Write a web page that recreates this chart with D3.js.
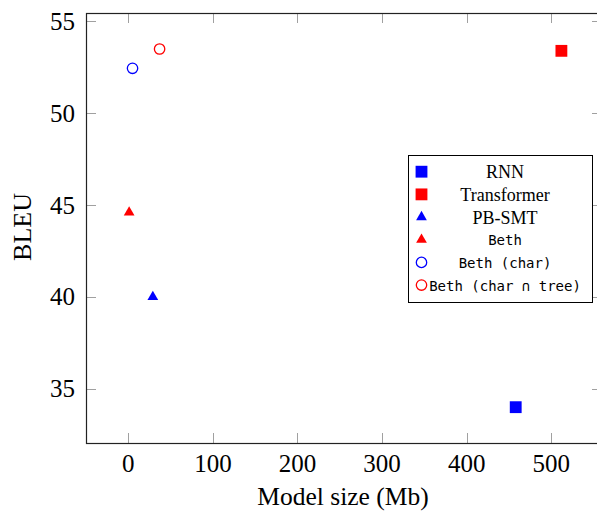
<!DOCTYPE html>
<html>
<head>
<meta charset="utf-8">
<script src="https://cdn.jsdelivr.net/npm/d3@7"></script>
<style>
  body { margin: 0; background: #fff; }
  svg { display: block; }
</style>
</head>
<body>
<script>
// Data
const models = ["RNN", "Transformer", "PB-SMT", "Beth", "Beth (char)", "Beth (char \u2229 tree)"];
const modelSize = [458, 512, 29, 1, 5, 37];      // Mb
const bleu = [34.0, 53.4, 40.0, 44.6, 52.45, 53.5];
const xTicks = [0, 100, 200, 300, 400, 500];
const yTicks = [35, 40, 45, 50, 55];

// Marker styles, one per series
const styles = [
  { shape: "square", color: "#0000ff", font: "serif" },
  { shape: "square", color: "#ff0000", font: "serif" },
  { shape: "triangle", color: "#0000ff", font: "serif" },
  { shape: "triangle", color: "#ff0000", font: "mono" },
  { shape: "circle", color: "#0000ff", font: "mono" },
  { shape: "circle", color: "#ff0000", font: "mono" }
];

const width = 597, height = 511;
const plot = { left: 86, right: 602, top: 13, bottom: 443 };
const serif = "'Liberation Serif', 'Times New Roman', serif";
const mono = "'DejaVu Sans Mono', monospace";

const svg = d3.select("body").append("svg")
  .attr("width", width)
  .attr("height", height);

const x = d3.scaleLinear().domain([-50, 560]).range([plot.left, plot.right]);
const y = d3.scaleLinear().domain([32.05, 55.46]).range([plot.bottom, plot.top]);

// ticks on all four sides, pointing inwards
const tickLen = 10;
const ticks = svg.append("g").attr("stroke", "#a0a0a0").attr("stroke-width", 1);
xTicks.forEach(t => {
  const px = Math.round(x(t)) + 0.5;
  ticks.append("line").attr("x1", px).attr("x2", px)
    .attr("y1", plot.bottom).attr("y2", plot.bottom - tickLen);
  ticks.append("line").attr("x1", px).attr("x2", px)
    .attr("y1", plot.top).attr("y2", plot.top + tickLen);
});
yTicks.forEach(t => {
  const py = Math.round(y(t)) + 0.5;
  ticks.append("line").attr("y1", py).attr("y2", py)
    .attr("x1", plot.left).attr("x2", plot.left + tickLen);
  ticks.append("line").attr("y1", py).attr("y2", py)
    .attr("x1", plot.right).attr("x2", plot.right - tickLen);
});

// axis box
svg.append("rect")
  .attr("x", plot.left + 0.5).attr("y", plot.top + 0.5)
  .attr("width", plot.right - plot.left).attr("height", plot.bottom - plot.top)
  .attr("fill", "none").attr("stroke", "#222").attr("stroke-width", 1.2);

// tick labels
svg.append("g").selectAll("text").data(xTicks).join("text")
  .attr("x", d => x(d)).attr("y", 472)
  .attr("text-anchor", "middle")
  .style("font-family", serif).style("font-size", "25px")
  .text(d => d);

svg.append("g").selectAll("text").data(yTicks).join("text")
  .attr("x", 75).attr("y", d => y(d) + 8.5)
  .attr("text-anchor", "end")
  .style("font-family", serif).style("font-size", "25px")
  .text(d => d);

// axis labels
svg.append("text")
  .attr("x", 343).attr("y", 505)
  .attr("text-anchor", "middle")
  .style("font-family", serif).style("font-size", "25.5px")
  .text("Model size (Mb)");

svg.append("text")
  .attr("transform", "translate(31,227) rotate(-90)")
  .attr("text-anchor", "middle")
  .style("font-family", serif).style("font-size", "26px")
  .text("BLEU");

// marker drawing
function marker(g, s) {
  if (s.shape === "square") {
    g.append("path").attr("d", d3.symbol(d3.symbolSquare, 140)())
      .attr("fill", s.color);
  } else if (s.shape === "triangle") {
    g.append("path").attr("d", d3.symbol(d3.symbolTriangle, 50)())
      .attr("fill", s.color);
  } else {
    g.append("circle").attr("r", 5.2)
      .attr("fill", "none").attr("stroke", s.color).attr("stroke-width", 1.3);
  }
}

// data points
models.forEach((m, i) => {
  const g = svg.append("g")
    .attr("transform", `translate(${x(modelSize[i])},${y(bleu[i])})`);
  marker(g, styles[i]);
});

// legend
const legend = svg.append("g");
legend.append("rect")
  .attr("x", 408.5).attr("y", 155.5).attr("width", 184).attr("height", 147)
  .attr("fill", "#fff").attr("stroke", "#000").attr("stroke-width", 1);

models.forEach((m, i) => {
  const ry = 171.7 + i * 22.67;
  const g = legend.append("g").attr("transform", `translate(421.5,${ry})`);
  marker(g, styles[i]);
  const isSerif = styles[i].font === "serif";
  legend.append("text")
    .attr("x", 505).attr("y", ry + (isSerif ? 6.5 : 5.5))
    .attr("text-anchor", "middle")
    .style("font-family", isSerif ? serif : mono)
    .style("font-size", isSerif ? "18px" : "14px")
    .text(m);
});
</script>
</body>
</html>
